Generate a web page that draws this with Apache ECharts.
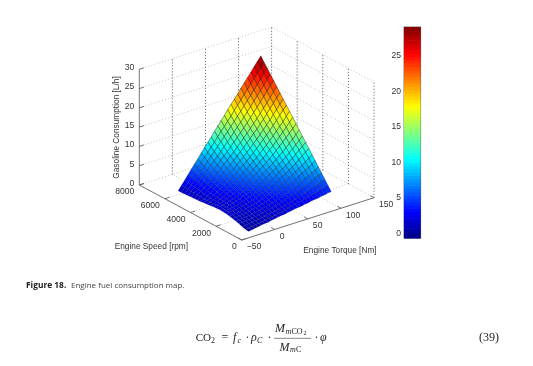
<!DOCTYPE html>
<html><head><meta charset="utf-8">
<style>html,body{margin:0;padding:0;background:#fff}#c{width:533px;height:366px;filter:blur(0.45px)}</style>
<script src="https://cdn.jsdelivr.net/npm/echarts@6/dist/echarts.min.js"></script></head>
<body><div id="c"></div>
<script>
const speedTicks=[0,2000,4000,6000,8000];
const torqueTicks=[-50,0,50,100,150];
const fuelTicks=[0,5,10,15,20,25,30];
const colorbarTicks=[0,5,10,15,20,25];
const speeds=[500,750,1000,1250,1500,1750,2000,2250,2500,2750,3000,3250,3500,3750,4000,4250,4500,4750,5000,5250,5500,5750,6000];
const torques=[-30,-25,-20,-15,-10,-5,0,5,10,15,20,25,30,35,40,45,50,55,60,65,70,75,80,85,90,95];
const fuelTable=[
[0.2,0.3,0.5,0.6,0.8,0.9,1.0,1.2,1.3,1.5,1.6,1.7,1.9,2.0,2.2,2.3,2.4,2.6,2.7,2.9,3.0,3.1,3.3,3.4,3.6,3.7],
[0.35,0.5,0.6,0.7,0.8,1.0,1.1,1.3,1.4,1.6,1.75,1.9,2.1,2.3,2.5,2.7,2.9,3.1,3.3,3.5,3.7,4.0,4.2,4.4,4.7,4.9],
[0.55,0.65,0.8,0.9,1.0,1.1,1.3,1.4,1.6,1.8,1.9,2.1,2.3,2.6,2.8,3.0,3.3,3.5,3.8,4.1,4.4,4.7,5.0,5.3,5.7,6.0],
[0.9,1.0,1.1,1.2,1.3,1.4,1.6,1.8,1.9,2.1,2.3,2.5,2.8,3.0,3.3,3.6,3.9,4.2,4.5,4.9,5.2,5.6,6.0,6.4,6.8,7.2],
[1.15,1.2,1.3,1.4,1.5,1.6,1.8,2.0,2.2,2.4,2.6,2.8,3.1,3.4,3.7,4.0,4.3,4.7,5.1,5.5,5.9,6.4,6.8,7.3,7.8,8.3],
[1.35,1.4,1.5,1.6,1.7,1.9,2.1,2.3,2.5,2.7,2.9,3.2,3.5,3.8,4.2,4.6,5.0,5.4,5.8,6.3,6.8,7.3,7.8,8.3,8.9,9.5],
[1.55,1.6,1.7,1.8,1.9,2.1,2.3,2.5,2.8,3.0,3.3,3.6,4.0,4.3,4.7,5.1,5.5,6.0,6.5,7.0,7.5,8.1,8.7,9.3,10.0,10.6],
[1.7,1.8,1.9,2.0,2.2,2.3,2.6,2.8,3.1,3.4,3.7,4.0,4.4,4.8,5.2,5.7,6.2,6.7,7.2,7.8,8.4,9.0,9.7,10.4,11.1,11.8],
[1.8,1.9,2.0,2.1,2.3,2.5,2.8,3.1,3.4,3.7,4.0,4.4,4.8,5.3,5.7,6.2,6.8,7.3,7.9,8.5,9.2,9.9,10.6,11.4,12.1,12.9],
[1.85,1.9,2.1,2.2,2.5,2.8,3.0,3.4,3.7,4.1,4.4,4.9,5.3,5.8,6.3,6.9,7.5,8.1,8.7,9.4,10.1,10.8,11.6,12.4,13.2,14.1],
[1.8,2.0,2.1,2.3,2.6,2.9,3.2,3.6,4.0,4.4,4.8,5.3,5.8,6.3,6.9,7.5,8.1,8.8,9.5,10.2,10.9,11.7,12.5,13.4,14.3,15.2],
[1.7,1.9,2.1,2.4,2.7,3.0,3.4,3.8,4.2,4.7,5.2,5.7,6.3,6.9,7.5,8.1,8.8,9.5,10.3,11.1,11.9,12.7,13.6,14.5,15.4,16.4],
[1.6,1.8,2.1,2.5,2.8,3.2,3.6,4.1,4.6,5.1,5.6,6.2,6.8,7.4,8.1,8.8,9.5,10.3,11.1,11.9,12.8,13.7,14.6,15.6,16.6,17.6],
[1.5,1.8,2.2,2.5,2.9,3.4,3.9,4.4,4.9,5.5,6.1,6.7,7.4,8.0,8.8,9.5,10.3,11.1,11.9,12.8,13.7,14.7,15.6,16.6,17.7,18.7],
[1.4,1.8,2.2,2.6,3.1,3.6,4.2,4.8,5.3,6.0,6.6,7.3,8.0,8.7,9.5,10.3,11.1,12.0,12.9,13.8,14.7,15.7,16.8,17.8,18.8,19.9],
[1.3,1.7,2.2,2.7,3.3,3.9,4.5,5.1,5.7,6.4,7.1,7.8,8.6,9.4,10.2,11.0,11.9,12.8,13.7,14.7,15.7,16.7,17.8,18.8,19.9,21.0],
[1.25,1.8,2.3,2.9,3.5,4.2,4.8,5.5,6.3,7.0,7.7,8.5,9.3,10.2,11.0,11.9,12.8,13.8,14.7,15.7,16.7,17.8,18.9,20.0,21.1,22.2],
[1.2,1.8,2.5,3.1,3.8,4.5,5.3,6.0,6.8,7.6,8.4,9.2,10.0,10.9,11.8,12.8,13.7,14.7,15.7,16.7,17.8,18.8,19.9,21.0,22.2,23.3],
[1.15,1.9,2.6,3.3,4.1,4.9,5.7,6.5,7.3,8.2,9.1,9.9,10.8,11.8,12.7,13.7,14.7,15.7,16.8,17.8,18.9,20.0,21.1,22.2,23.4,24.5],
[1.1,1.9,2.7,3.6,4.4,5.3,6.1,7.0,7.9,8.8,9.8,10.7,11.7,12.6,13.7,14.7,15.7,16.7,17.8,18.9,20.0,21.1,22.2,23.3,24.5,25.6],
[1.05,1.9,2.8,3.8,4.7,5.7,6.6,7.6,8.6,9.6,10.6,11.6,12.6,13.6,14.7,15.7,16.8,17.8,18.9,20.0,21.1,22.2,23.4,24.5,25.7,26.8],
[1.0,2.0,3.0,4.0,5.1,6.1,7.1,8.2,9.2,10.3,11.3,12.4,13.5,14.5,15.6,16.7,17.8,18.9,20.0,21.1,22.2,23.3,24.4,25.6,26.7,27.9],
[1.0,2.1,3.2,4.4,5.5,6.6,7.7,8.9,10.0,11.1,12.2,13.4,14.5,15.6,16.7,17.9,19.0,20.1,21.2,22.4,23.5,24.6,25.7,26.9,28.0,29.1]
];
const colorMin=-0.6, colorMax=29;
const jet=['#000080','#0000ff','#0080ff','#00ffff','#80ff80','#ffff00','#ff8000','#ff0000','#800000'];

// 3-D to page projection of the MATLAB box
function project(s,t,z){
  const a=s/8000,b=(t+50)/200;
  return [241.7-102.4*a+132.3*b, 240-55*a-42.3*b-z*115.7/30];
}
const chart=echarts.init(document.getElementById('c'),null,{renderer:'canvas',width:533,height:366});

// surface cells, back to front
const cells=[];
for(let i=speeds.length-2;i>=0;i--)for(let j=torques.length-2;j>=0;j--){
  const m=(fuelTable[i][j]+fuelTable[i+1][j]+fuelTable[i][j+1]+fuelTable[i+1][j+1])/4;
  cells.push([i,j,m]);
}
function renderCell(p,api){
  const i=api.value(0),j=api.value(1),m=api.value(2);
  const pts=[[i,j],[i+1,j],[i+1,j+1],[i,j+1]].map(q=>api.coord(project(speeds[q[0]],torques[q[1]],fuelTable[q[0]][q[1]])));
  const alpha=Math.min(0.6,0.06+0.06*Math.max(0,m));
  return {type:'polygon',shape:{points:pts},style:{fill:api.visual('color'),stroke:'rgba(0,0,0,'+alpha+')',lineWidth:0.6}};
}
// box lines: [s1,t1,z1,s2,t2,z2,kind]  kind 0 faint dotted, 1 solid, 2 dark dotted
const boxLines=[];
const zMax=fuelTicks[fuelTicks.length-1];
fuelTicks.forEach(z=>{ if(z>0){boxLines.push([8000,-50,z,8000,150,z,0]);boxLines.push([8000,150,z,0,150,z,0]);}});
torqueTicks.forEach(t=>{ if(t>-50)boxLines.push([8000,t,0,8000,t,zMax,2]); boxLines.push([0,t,0,8000,t,0,0]);});
speedTicks.forEach(s=>{ if(s<8000)boxLines.push([s,150,0,s,150,zMax,2]); boxLines.push([s,-50,0,s,150,0,0]);});
boxLines.push([0,-50,0,8000,-50,0,1],[0,-50,0,0,150,0,1],[8000,-50,0,8000,-50,zMax,1]);
speedTicks.forEach(s=>boxLines.push([s,-50,0,s,-43,0,1]));
torqueTicks.forEach(t=>boxLines.push([0,t,0,280,t,0,1]));
fuelTicks.forEach(z=>boxLines.push([8000,-50,z,8000,-43,z,1]));
function renderLine(p,api){
  const a=api.coord(project(api.value(0),api.value(1),api.value(2)));
  const b=api.coord(project(api.value(3),api.value(4),api.value(5)));
  const k=api.value(6);
  const style=k===1?{stroke:'#666',lineWidth:0.9}:k===2?{stroke:'#444',lineWidth:0.9,lineDash:[1,2]}:{stroke:'#b5b5b5',lineWidth:0.8,lineDash:[1,2]};
  return {type:'line',shape:{x1:a[0],y1:a[1],x2:b[0],y2:b[1]},style:style};
}
const labelFont='8.6px "Liberation Sans"';
const tickLabels=[];
speedTicks.forEach(s=>tickLabels.push({value:[s,-50,0,-5,7],name:String(s),align:'right'}));
torqueTicks.forEach(t=>tickLabels.push({value:[0,t,0,5,7],name:String(t).replace('-','\u2212'),align:'left'}));
fuelTicks.forEach(z=>tickLabels.push({value:[8000,-50,z,-5,-1.5],name:String(z),align:'right'}));
function renderLabel(p,api){
  const a=api.coord(project(api.value(0),api.value(1),api.value(2)));
  const it=tickLabels[p.dataIndex];
  return {type:'text',x:a[0]+api.value(3),y:a[1]+api.value(4),
    style:{text:it.name,fill:'#333',font:labelFont,textAlign:it.align,textVerticalAlign:'middle'}};
}
// colour bar levels (64 colormap steps)
const barLevels=[];
for(let k=0;k<64;k++){const lo=colorMin+(colorMax-colorMin)*k/64,hi=colorMin+(colorMax-colorMin)*(k+1)/64;barLevels.push([lo,hi,(lo+hi)/2]);}
function renderBar(p,api){
  const lo=api.coord([0,api.value(0)]),hi=api.coord([1,api.value(1)]);
  return {type:'rect',shape:{x:lo[0],y:hi[1],width:hi[0]-lo[0],height:lo[1]-hi[1]+0.6},style:{fill:api.visual('color')}};
}
// text helpers
function tx(x,y,text,size,opt){
  opt=opt||{};
  return {type:'text',x:x,y:y,rotation:opt.rot||0,z:10,
    style:{text:text,fill:opt.fill||'#222',
      font:(opt.style||'')+' '+size+'px '+(opt.family||'"Liberation Serif"'),
      textAlign:opt.align||'left',textVerticalAlign:'middle'}};
}
const it={style:'italic'};
const sans={family:'"Liberation Sans"',fill:'#333'};
const graphics=[
  tx(114.7,247,'Engine Speed [rpm]',8.3,sans),
  tx(303.3,250.3,'Engine Torque [Nm]',8.3,sans),
  tx(116.7,127.5,'Gasoline Consumption [L/h]',8.3,Object.assign({rot:Math.PI/2,align:'center'},sans)),
  tx(26,285.5,'Figure 18.',8.4,{family:'"Open Sans"',style:'bold',fill:'#222'}),
  tx(71,285.5,'Engine fuel consumption map.',8,{family:'"Open Sans"',fill:'#444'}),
  tx(195.7,338,'CO',11),tx(211,341,'2',8),tx(221.5,338,'=',12),
  tx(233,338,'f',12,it),tx(237.5,341,'c',8,it),tx(245.5,338,'\u00b7',12),
  tx(251,338,'\u03c1',12,it),tx(257,341,'C',8,it),tx(267.5,338,'\u00b7',12),
  tx(275,329,'M',12,it),tx(285.5,331.5,'m',8,it),tx(291.5,331.5,'CO',8),tx(303.5,333,'2',6),
  tx(279.5,347.5,'M',12,it),tx(290,350,'m',8,it),tx(296,350,'C',8),
  {type:'line',z:10,shape:{x1:274,y1:338.3,x2:311,y2:338.3},style:{stroke:'#333',lineWidth:0.6}},
  tx(314.5,338,'\u00b7',12),tx(320,338,'\u03c6',12,it),
  tx(479,338,'(39)',12)
];
chart.setOption({
  animation:false,backgroundColor:'#fff',
  grid:[{left:0,right:0,top:0,bottom:0},{left:404,top:27,width:16.6,height:211,show:true,borderColor:'#555',borderWidth:0.8,backgroundColor:'transparent'}],
  xAxis:[{type:'value',min:0,max:533,show:false,gridIndex:0},{type:'value',min:0,max:1,show:false,gridIndex:1}],
  yAxis:[{type:'value',min:0,max:366,inverse:true,show:false,gridIndex:0},
    {type:'value',gridIndex:1,min:colorMin,max:colorMax,position:'left',splitLine:{show:false},
     axisLine:{show:true,lineStyle:{color:'#555',width:0.8}},
     axisTick:{show:true,inside:true,length:2.5,customValues:colorbarTicks,lineStyle:{color:'#333',width:0.8}},
     axisLabel:{show:true,customValues:colorbarTicks,margin:3,color:'#333',fontSize:8.6,fontFamily:'Liberation Sans'}},
    {type:'value',gridIndex:1,min:colorMin,max:colorMax,position:'right',splitLine:{show:false},
     axisLine:{show:true,lineStyle:{color:'#555',width:0.8}},
     axisTick:{show:true,inside:true,length:2.5,customValues:colorbarTicks,lineStyle:{color:'#333',width:0.8}},
     axisLabel:{show:false}}],
  visualMap:[{show:false,type:'continuous',seriesIndex:[1,3],dimension:2,min:colorMin,max:colorMax,inRange:{color:jet}}],
  series:[
    {type:'custom',name:'box',coordinateSystem:'cartesian2d',xAxisIndex:0,yAxisIndex:0,renderItem:renderLine,data:boxLines,silent:true,clip:false,z:1},
    {type:'custom',name:'surface',coordinateSystem:'cartesian2d',xAxisIndex:0,yAxisIndex:0,renderItem:renderCell,data:cells,silent:true,clip:false,z:2},
    {type:'custom',name:'ticks',coordinateSystem:'cartesian2d',xAxisIndex:0,yAxisIndex:0,renderItem:renderLabel,data:tickLabels,silent:true,clip:false,z:3},
    {type:'custom',name:'colorbar',coordinateSystem:'cartesian2d',xAxisIndex:1,yAxisIndex:1,renderItem:renderBar,data:barLevels,silent:true,clip:false,z:1}
  ],
  graphic:graphics
});
</script></body></html>
